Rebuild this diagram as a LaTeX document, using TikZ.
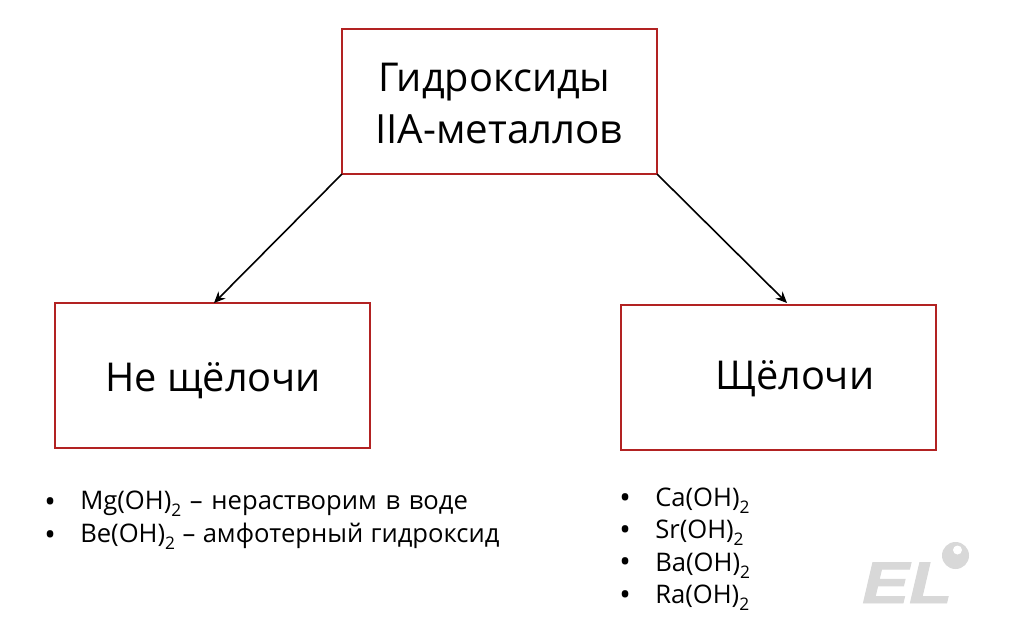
\documentclass[tikz,border=0pt]{standalone}
\usepackage{fontspec}
\setmainfont{Open Sans}
\usetikzlibrary{arrows.meta}
\newcommand{\subtwo}{\raisebox{-0.3em}{\fontsize{13pt}{16pt}\selectfont 2}}
\tikzset{
  x=0.75pt,y=-0.75pt,
  redbox/.style={draw=boxred,line width=1.5pt,fill=white,inner sep=0pt,outer sep=0pt,anchor=north west},
  big/.style={font=\fontsize{29.8pt}{38pt}\selectfont,inner sep=0pt,anchor=base west},
  item/.style={font=\fontsize{19.2pt}{20pt}\selectfont,inner sep=0pt,anchor=base west},
  dot/.style={font=\fontsize{23pt}{25pt}\selectfont,inner sep=0pt,anchor=base west},
  conn/.style={draw=black,line width=1.2pt,-{Stealth[length=8.5pt,width=7.5pt]}}
}
\definecolor{boxred}{RGB}{178,34,34}
\definecolor{wmgray}{RGB}{216,216,216}
\begin{document}
\begin{tikzpicture}
\useasboundingbox (0,0) rectangle (1010,629);
\fill[white] (0,0) rectangle (1010,629);
\node[redbox,minimum width=236.25pt,minimum height=108.75pt] (top) at (342,29) {};
\node[redbox,minimum width=236.25pt,minimum height=108.75pt] (left) at (55,303) {};
\node[redbox,minimum width=236.25pt,minimum height=108.75pt] (right) at (621,305) {};
\node[big] (t1) at (378,91) {Гидроксиды};
\node[big,font=\fontsize{30.2pt}{38pt}\selectfont] (t2) at (375,143) {IIA-металлов};
\node[big] (t3) at (105,391) {Не щёлочи};
\node[big] (t4) at (715,389) {Щёлочи};
\coordinate (la) at (214,303);
\coordinate (ra) at (787,303);
\draw[conn] (top.south west) -- (la);
\draw[conn] (top.south east) -- (ra);
\node[dot] (b1) at (44,512) {•};
\node[item] (l1) at (80,509) {\spaceskip=0.34em Mg(OH)\subtwo{} – нерастворим в воде};
\node[dot] (b2) at (44,545) {•};
\node[item] (l2) at (80,542) {\spaceskip=0.29em Be(OH)\subtwo{} – амфотерный гидроксид};
\node[dot] (b3) at (619,508) {•};
\node[item] (r1) at (655,506) {Ca(OH)\subtwo};
\node[dot] (b4) at (619,540) {•};
\node[item] (r2) at (655,538) {Sr(OH)\subtwo};
\node[dot] (b5) at (619,572) {•};
\node[item] (r3) at (655,571) {Ba(OH)\subtwo};
\node[dot] (b6) at (619,605) {•};
\node[item] (r4) at (655,603) {Ra(OH)\subtwo};
\node[inner sep=0pt,anchor=base west,text=wmgray] (wm) at (862,603) {\scalebox{1.2}[1]{\fontspec[FakeBold=1.5]{Liberation Sans Bold Italic}\fontsize{44pt}{50pt}\selectfont EL}};
\fill[wmgray] (955.5,555.5) circle (13.5);
\fill[white] (957.5,550) circle (4.5);
\end{tikzpicture}
\end{document}
